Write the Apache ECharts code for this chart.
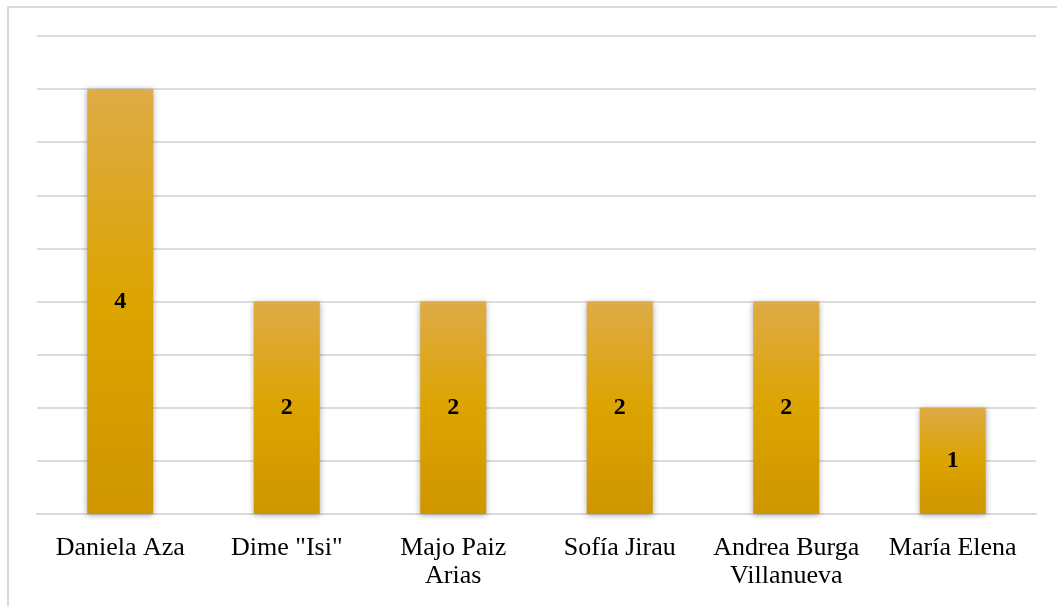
<!DOCTYPE html>
<html><head><meta charset="utf-8">
<script src="https://cdn.jsdelivr.net/npm/echarts@6/dist/echarts.min.js"></script>
<style>html,body{margin:0;padding:0;background:#fff}#c{width:1057px;height:606px}</style>
</head><body><div id="c"></div>
<script>
const categories = ['Daniela Aza', 'Dime "Isi"', 'Majo Paiz\nArias', 'Sofía Jirau', 'Andrea Burga\nVillanueva', 'María Elena'];
const values = [4, 2, 2, 2, 2, 1];
const chart = echarts.init(document.getElementById('c'));
chart.setOption({
  animation: false,
  backgroundColor: '#fff',
  graphic: [{type: 'rect', shape: {x: 8, y: 7, width: 1200, height: 800}, style: {fill: 'none', stroke: '#d9d9d9', lineWidth: 2}, silent: true}],
  grid: {left: 37, right: 21, top: 36, bottom: 92},
  xAxis: {
    type: 'category', data: categories,
    axisLine: {lineStyle: {color: '#d9d9d9', width: 2}},
    axisTick: {show: false},
    axisLabel: {color: '#000', fontFamily: 'Liberation Serif', fontSize: 26, lineHeight: 28, margin: 20, interval: 0}
  },
  yAxis: {
    type: 'value', min: 0, max: 4.5, interval: 0.5,
    axisLabel: {show: false}, axisLine: {show: false}, axisTick: {show: false},
    splitLine: {lineStyle: {color: '#dcdcdc', width: 2}}
  },
  series: [{
    type: 'bar', data: values, barWidth: 66,
    itemStyle: {
      color: new echarts.graphic.LinearGradient(0, 0, 0, 1, [
        {offset: 0, color: '#DEAB46'}, {offset: 0.5, color: '#DCA400'}, {offset: 1, color: '#CF9600'}
      ]),
      shadowColor: 'rgba(0,0,0,0.35)', shadowBlur: 6, shadowOffsetY: 1
    },
    label: {show: true, position: 'inside', color: '#000', fontFamily: 'Liberation Serif', fontWeight: 'bold', fontSize: 24}
  }]
});
</script></body></html>
